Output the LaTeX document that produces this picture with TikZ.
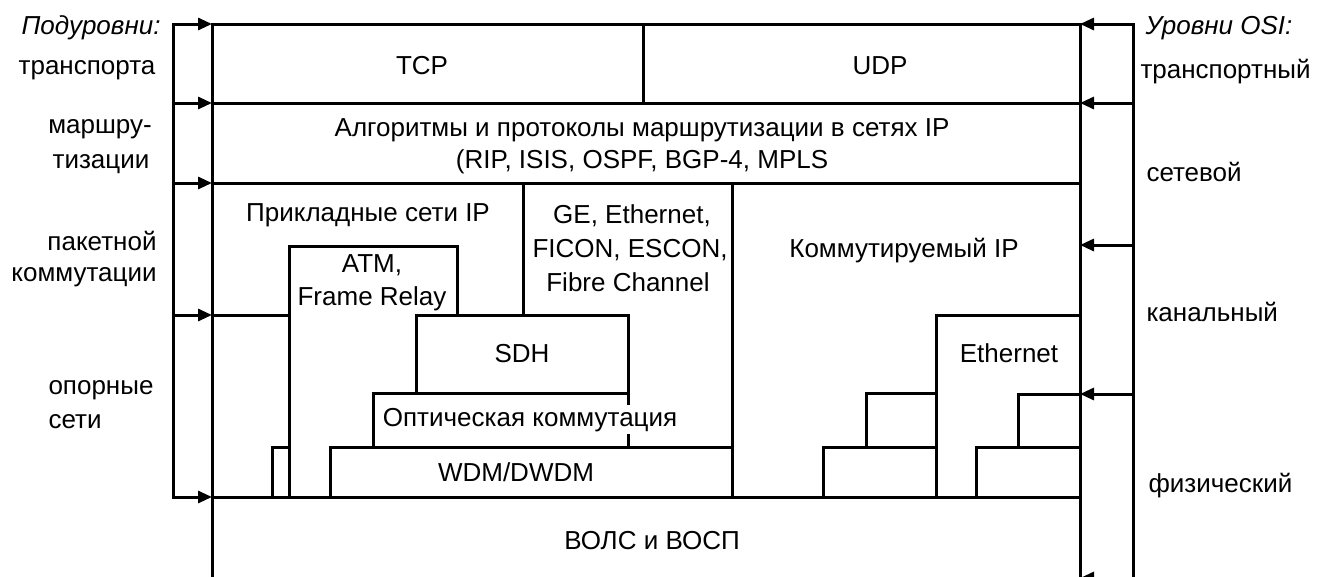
\documentclass[tikz,border=0pt]{standalone}
\usepackage{fontspec}
\setmainfont{Liberation Sans}
\usetikzlibrary{arrows.meta}
\begin{document}
\begin{tikzpicture}[x=1pt,y=-1pt,line width=3pt,line join=miter,
  ln/.style={line cap=rect},
  arr/.style={-{Triangle[length=14pt,width=12pt]}},
  lbl/.style={font=\fontsize{26}{30}\selectfont,inner sep=0pt,anchor=base},
  lbll/.style={lbl,anchor=base west},
  lblr/.style={lbl,anchor=base east}]
\useasboundingbox (0,0) rectangle (1329,576);
\clip (0,0) rectangle (1329,576);
% named coordinates: outer rails and inner rails
\foreach \y/\n in {24/a,103/b,183/c,315/d,497/e}{
  \coordinate (Lo\n) at (173,\y); \coordinate (Li\n) at (212,\y);}
\foreach \y/\n in {24/a,103/b,245/c,394/d,578/e}{
  \coordinate (Ro\n) at (1133,\y); \coordinate (Ri\n) at (1080,\y);}
% rails
\draw[ln] (173,24) -- (173,497);
\draw[ln] (212,24) -- (212,590);
\draw[ln] (1080,24) -- (1080,590);
\draw[ln] (1133,24) -- (1133,590);
% arrows
\foreach \n in {a,b,c,d,e}{
  \draw[arr] (Lo\n) -- (Li\n);
  \draw[arr] (Ro\n) -- (Ri\n);}
% horizontal layers
\draw[ln] (212,24) -- (1080,24);
\draw[ln] (212,103) -- (1080,103);
\draw[ln] (212,183) -- (1080,183);
\draw[ln] (212,497) -- (1080,497);
\draw[ln] (643,24) -- (643,103);
\draw[ln] (523,183) -- (523,315);
\draw[ln] (732,183) -- (732,497);
% left stacks
\draw[ln] (212,315) -- (289,315);
\draw[ln] (289,497) -- (289,246) -- (457,246) -- (457,315);
\draw[ln] (416,393) -- (416,315) -- (628,315) -- (628,447);
\draw[ln] (373,447) -- (373,393) -- (628,393);
\draw[ln] (330,497) -- (330,447) -- (732,447);
\draw[ln] (272,497) -- (272,447) -- (289,447);
% right stacks
\draw[ln] (936,497) -- (936,315) -- (1080,315);
\draw[ln] (866,447) -- (866,393) -- (936,393);
\draw[ln] (823,497) -- (823,447) -- (936,447);
\draw[ln] (1018,447) -- (1018,394) -- (1080,394);
\draw[ln] (976,497) -- (976,447) -- (1080,447);
% left labels
\node[lblr] (sub) at (162,34) {\itshape Подуровни:};
\node[lbl] (tr) at (87,74) {транспорта};
\node[lbl] (m1) at (100,133) {маршру-};
\node[lbl] (m2) at (101,168) {тизации};
\node[lbl] (p1) at (102,250) {пакетной};
\node[lbl] (p2) at (84,281) {коммутации};
\node[lbll] (o1) at (47,394) {опорные};
\node[lbll] (o2) at (47,428) {сети};
% right labels
\node[lbll] (osi) at (1144,34) {\itshape Уровни OSI:};
\node[lbll] (r1) at (1139,78) {транспортный};
\node[lbll] (r2) at (1145,181) {сетевой};
\node[lbll] (r3) at (1145,321) {канальный};
\node[lbll] (r4) at (1147,492) {физический};
% inner labels
\node[lbl] (tcp) at (422,74) {TCP};
\node[lbl] (udp) at (880,74) {UDP};
\node[lbl] (alg1) at (642,136) {Алгоритмы и протоколы маршрутизации в сетях IP};
\node[lbl] (alg2) at (642,168) {(RIP, ISIS, OSPF, BGP-4, MPLS};
\node[lbl] (app) at (368,221) {Прикладные сети IP};
\node[lbl] (atm1) at (372,272) {ATM,};
\node[lbl] (atm2) at (372,305) {Frame Relay};
\node[lbl] (ge1) at (632,223) {GE, Ethernet,};
\node[lbl] (ge2) at (630,257) {FICON, ESCON,};
\node[lbl] (ge3) at (628,291) {Fibre Channel};
\node[lbl] (kip) at (904,257) {Коммутируемый IP};
\node[lbl] (sdh) at (522,362) {SDH};
\node[lbl] (eth) at (1009,362) {Ethernet};
\node[lbl,fill=white,inner xsep=2pt,inner ysep=3pt] (opt) at (530,426) {Оптическая коммутация};
\node[lbl] (wdm) at (516,481) {WDM/DWDM};
\node[lbl] (vols) at (652,549) {ВОЛС и ВОСП};
\end{tikzpicture}
\end{document}
